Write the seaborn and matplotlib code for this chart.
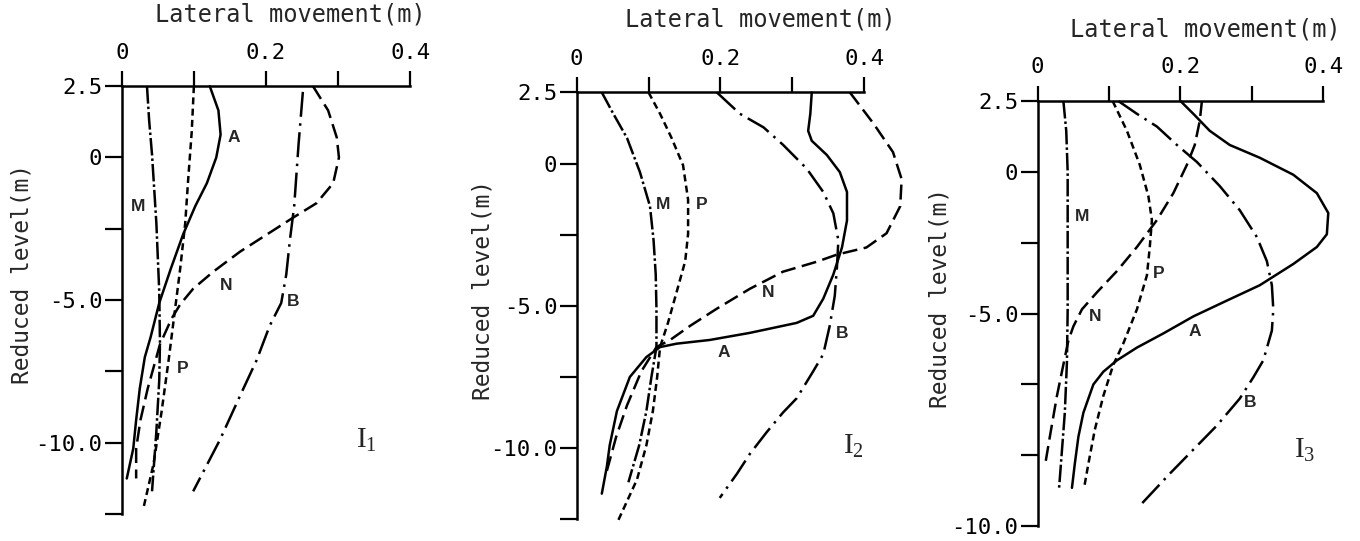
import numpy as np
import pandas as pd
import matplotlib
matplotlib.use("Agg")
import matplotlib.pyplot as plt
import seaborn as sns

# ---------------- data: lateral movement (m) vs reduced level (m) ----------------
# Inclinometer I1
i1_m_move = [0.035, 0.038, 0.042, 0.045, 0.048, 0.050, 0.052, 0.053, 0.052, 0.048, 0.042]
i1_m_level = [2.5, 1.3, 0.1, -1.1, -2.3, -3.5, -4.7, -6.5, -7.8, -9.6, -11.7]
i1_a_move = [0.122, 0.134, 0.137, 0.131, 0.118, 0.102, 0.085, 0.068, 0.052, 0.040, 0.032,
             0.025, 0.020, 0.016, 0.007]
i1_a_level = [2.5, 1.65, 0.8, 0.0, -0.9, -1.7, -2.7, -3.9, -5.1, -6.3, -7.0, -8.1, -9.2,
              -10.2, -11.25]
i1_n_move = [0.265, 0.286, 0.298, 0.301, 0.293, 0.270, 0.238, 0.201, 0.164, 0.127, 0.099,
             0.081, 0.069, 0.053, 0.036, 0.026, 0.020, 0.020]
i1_n_level = [2.5, 1.65, 0.7, 0.0, -0.9, -1.6, -2.1, -2.7, -3.3, -4.0, -4.6, -5.15, -5.65,
              -6.55, -8.1, -9.2, -10.2, -11.25]
i1_b_move = [0.251, 0.245, 0.239, 0.233, 0.228, 0.221, 0.205, 0.187, 0.164, 0.136, 0.099]
i1_b_level = [2.3, 0.45, -1.7, -2.9, -4.1, -5.1, -5.9, -7.1, -8.35, -9.9, -11.7]
i1_p_move = [0.100, 0.097, 0.092, 0.088, 0.081, 0.074, 0.065, 0.055, 0.044, 0.030]
i1_p_level = [2.5, 0.9, -0.8, -2.3, -3.9, -5.3, -7.1, -8.95, -10.75, -12.3]

# Inclinometer I2
i2_m_move = [0.035, 0.051, 0.070, 0.088, 0.102, 0.107, 0.110, 0.111, 0.111, 0.104, 0.097,
             0.087, 0.072]
i2_m_level = [2.5, 1.75, 0.9, -0.3, -1.5, -2.7, -3.9, -5.1, -6.45, -7.5, -8.7, -9.9, -11.2]
i2_p_move = [0.100, 0.116, 0.132, 0.148, 0.155, 0.155, 0.151, 0.139, 0.127, 0.116, 0.112,
             0.106, 0.097, 0.084, 0.058]
i2_p_level = [2.5, 1.75, 0.9, -0.06, -1.27, -2.47, -3.43, -4.52, -5.6, -6.45, -7.5, -8.7,
              -9.9, -11.1, -12.53]
i2_n_move = [0.380, 0.413, 0.440, 0.452, 0.450, 0.431, 0.403, 0.362, 0.334, 0.287, 0.241,
             0.195, 0.158, 0.130, 0.111, 0.090, 0.070, 0.055, 0.042]
i2_n_level = [2.5, 1.4, 0.4, -0.55, -1.5, -2.45, -2.95, -3.2, -3.45, -3.8, -4.4, -5.1,
              -5.7, -6.2, -6.45, -7.3, -8.5, -9.6, -10.8]
i2_a_move = [0.327, 0.325, 0.322, 0.327, 0.348, 0.366, 0.376, 0.376, 0.369, 0.357, 0.343,
             0.329, 0.306, 0.241, 0.185, 0.139, 0.116, 0.097, 0.074, 0.056, 0.046, 0.042,
             0.035]
i2_a_level = [2.5, 1.75, 1.15, 0.8, 0.3, -0.3, -1.0, -2.0, -2.95, -3.9, -4.75, -5.35, -5.6,
              -5.95, -6.2, -6.33, -6.45, -6.8, -7.5, -8.7, -9.9, -10.65, -11.6]
i2_b_move = [0.195, 0.227, 0.260, 0.287, 0.320, 0.343, 0.357, 0.364, 0.362, 0.359, 0.352,
             0.343, 0.329, 0.306, 0.287, 0.264, 0.241, 0.223, 0.199]
i2_b_level = [2.5, 1.75, 1.27, 0.66, -0.18, -1.0, -1.75, -2.7, -3.65, -4.65, -5.7, -6.7,
              -7.3, -8.25, -8.75, -9.45, -10.2, -10.9, -11.75]

# Inclinometer I3
i3_m_move = [0.036, 0.040, 0.042, 0.042, 0.042, 0.041, 0.038, 0.030]
i3_m_level = [2.5, 1.45, 0.0, -2.4, -4.85, -6.7, -8.5, -11.15]
i3_n_move = [0.230, 0.227, 0.220, 0.209, 0.190, 0.167, 0.139, 0.111, 0.083, 0.062, 0.050,
             0.043, 0.036, 0.027, 0.017, 0.010]
i3_n_level = [2.5, 1.8, 0.95, 0.25, -0.75, -1.7, -2.65, -3.5, -4.25, -4.85, -5.45, -5.95,
              -6.8, -7.9, -9.35, -10.4]
i3_p_move = [0.105, 0.125, 0.143, 0.155, 0.160, 0.157, 0.153, 0.139, 0.120, 0.106, 0.092,
             0.080, 0.071, 0.065]
i3_p_level = [2.5, 1.45, 0.25, -0.85, -1.7, -2.65, -3.65, -4.85, -6.05, -6.8, -7.9, -9.1,
              -10.3, -11.15]
i3_a_move = [0.200, 0.218, 0.241, 0.269, 0.311, 0.358, 0.391, 0.407, 0.405, 0.391, 0.358,
             0.311, 0.260, 0.218, 0.176, 0.139, 0.111, 0.092, 0.078, 0.064, 0.057, 0.052,
             0.048]
i3_a_level = [2.5, 2.05, 1.45, 0.95, 0.5, -0.1, -0.75, -1.45, -2.2, -2.65, -3.25, -4.0,
              -4.6, -5.1, -5.7, -6.2, -6.65, -7.05, -7.5, -8.5, -9.35, -10.3, -11.15]
i3_b_move = [0.113, 0.139, 0.167, 0.195, 0.223, 0.255, 0.283, 0.307, 0.321, 0.328, 0.330,
             0.328, 0.316, 0.302, 0.283, 0.251, 0.218, 0.185, 0.146]
i3_b_level = [2.5, 2.05, 1.6, 0.95, 0.35, -0.5, -1.35, -2.3, -3.15, -4.0, -4.85, -5.6,
              -6.65, -7.25, -8.0, -8.95, -9.8, -10.65, -11.7]

# axis ticks
x_ticks = [0.0, 0.1, 0.2, 0.3, 0.4]
x_tick_labels = ["0", "", "0.2", "", "0.4"]
y_ticks = [2.5, 0.0, -2.5, -5.0, -7.5, -10.0, -12.5]
y_tick_labels_12 = ["2.5", "0", "", "-5.0", "", "-10.0", ""]
y_tick_labels_3 = ["2.5", "0", "", "-5.0", "", "", "-10.0"]

# ---------------- styling ----------------
sns.set_style("white")
MONO = ["DejaVu Sans Mono"]
plt.rcParams["font.family"] = MONO

DASHES = {
    "A": "",
    "M": (7.0, 1.2, 1.0, 1.2),
    "N": (6.0, 2.6),
    "P": (2.8, 1.7),
    "B": (10.0, 2.6, 1.0, 2.6),
}
LW = 1.8

fig = plt.figure(figsize=(13.6, 5.41), dpi=100)
fig.patch.set_facecolor("white")

panels = [
    dict(
        rect=[0.0895, 0.0233, 0.2441, 0.8438],
        curves={"M": (i1_m_move, i1_m_level), "A": (i1_a_move, i1_a_level),
                "N": (i1_n_move, i1_n_level), "B": (i1_b_move, i1_b_level),
                "P": (i1_p_move, i1_p_level)},
        ylabels=y_tick_labels_12,
        tags={"A": (0.155, 0.69), "M": (0.023, -1.72), "N": (0.145, -4.49),
              "B": (0.238, -5.04), "P": (0.085, -7.39)},
        name=(r"$\mathregular{I_1}$", 0.339, -9.92),
        xlab=(0.507, 1.111), ylab=(-0.267, 0.557),
    ),
    dict(
        rect=[0.4240, 0.0139, 0.2432, 0.8416],
        curves={"M": (i2_m_move, i2_m_level), "P": (i2_p_move, i2_p_level),
                "N": (i2_n_move, i2_n_level), "A": (i2_a_move, i2_a_level),
                "B": (i2_b_move, i2_b_level)},
        ylabels=y_tick_labels_12,
        tags={"M": (0.120, -1.45), "P": (0.174, -1.45), "N": (0.267, -4.52),
              "B": (0.369, -5.96), "A": (0.204, -6.63)},
        name=(r"$\mathregular{I_2}$", 0.385, -9.94),
        xlab=(0.554, 1.114), ylab=(-0.247, 0.535),
    ),
    dict(
        rect=[0.7630, 0.0013, 0.2415, 0.8381],
        curves={"M": (i3_m_move, i3_m_level), "N": (i3_n_move, i3_n_level),
                "P": (i3_p_move, i3_p_level), "A": (i3_a_move, i3_a_level),
                "B": (i3_b_move, i3_b_level)},
        ylabels=y_tick_labels_3,
        tags={"M": (0.062, -1.58), "P": (0.169, -3.58), "N": (0.080, -5.09),
              "A": (0.220, -5.64), "B": (0.297, -8.12)},
        name=(r"$\mathregular{I_3}$", 0.374, -9.82),
        xlab=(0.512, 1.111), ylab=(-0.262, 0.534),
    ),
]

for p in panels:
    ax = fig.add_axes(p["rect"])
    ax.set_facecolor("white")

    frames = [pd.DataFrame({"curve": k, "move": mv, "level": lv})
              for k, (mv, lv) in p["curves"].items()]
    df = pd.concat(frames, ignore_index=True)
    sns.lineplot(data=df, x="move", y="level", style="curve", dashes=DASHES,
                 sort=False, estimator=None, errorbar=None, color="black",
                 linewidth=LW, legend=False, ax=ax)
    for line in ax.get_lines():
        line.set_clip_on(False)
        line.set_dash_capstyle("butt")

    ax.set_xlim(0, 0.46)
    ax.set_ylim(-13.0, 3.0)

    ax.spines["right"].set_visible(False)
    ax.spines["bottom"].set_visible(False)
    ax.spines["top"].set_position(("data", 2.5))
    ax.spines["top"].set_bounds(0, 0.4)
    ax.spines["left"].set_position(("data", 0))
    ax.spines["left"].set_bounds(-12.5, 2.5)
    for s in ("top", "left"):
        ax.spines[s].set_linewidth(1.8)
        ax.spines[s].set_color("black")

    ax.xaxis.set_ticks_position("top")
    ax.set_xticks(x_ticks)
    ax.set_xticklabels(x_tick_labels)
    ax.set_yticks(y_ticks)
    ax.set_yticklabels(p["ylabels"])
    ax.tick_params(axis="x", direction="out", length=11, width=1.6, pad=6,
                   labelsize=16, colors="black", top=True, bottom=False,
                   labeltop=True, labelbottom=False)
    ax.tick_params(axis="y", direction="out", length=12, width=1.6, pad=2,
                   labelsize=16, colors="black", left=True)

    ax.set_xlabel("Lateral movement(m)", fontsize=17, family=MONO)
    ax.xaxis.set_label_position("top")
    ax.xaxis.set_label_coords(*p["xlab"])
    ax.set_ylabel("Reduced level(m)", fontsize=16.5, family=MONO)
    ax.yaxis.set_label_coords(*p["ylab"])

    for tag, (tx, ty) in p["tags"].items():
        ax.text(tx, ty, tag, fontsize=12.5, fontweight="bold",
                family=["Liberation Sans", "DejaVu Sans"], ha="center", va="center")
    label, nx, ny = p["name"]
    ax.text(nx, ny, label, fontsize=21, family=["Liberation Serif", "DejaVu Serif"],
            ha="center", va="center")

fig.savefig("out.png", dpi=100, facecolor="white")
